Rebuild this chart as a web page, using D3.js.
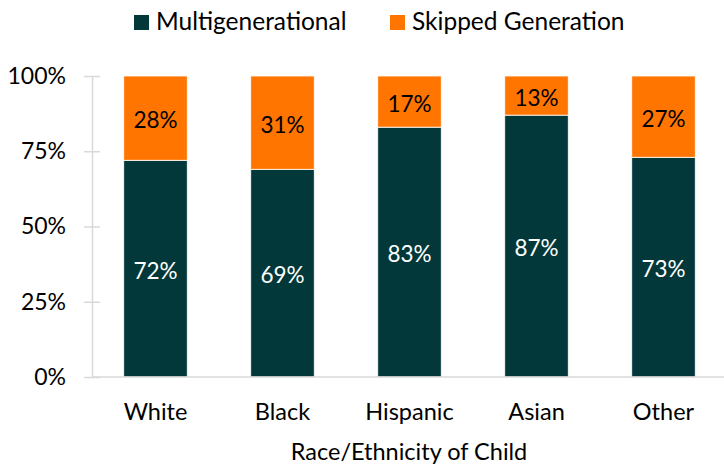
<!DOCTYPE html>
<html>
<head>
<meta charset="utf-8">
<script src="https://cdn.jsdelivr.net/npm/d3@7"></script>
<style>
  body { margin: 0; background: #fff; }
  svg text { font-family: Lato, "Open Sans", sans-serif; }
</style>
</head>
<body>
<svg id="chart" width="724" height="465"></svg>
<script>
const categories = ['White', 'Black', 'Hispanic', 'Asian', 'Other'];
const seriesNames = ['Multigenerational', 'Skipped Generation'];
const multigenerational = [72, 69, 83, 87, 73];
const skipped = [28, 31, 17, 13, 27];
const yTicks = [0, 25, 50, 75, 100];
const colors = ['#02383a', '#ff7500'];

const svg = d3.select('#chart');
const margin = { top: 76, right: -3, bottom: 88, left: 92 };
const width = +svg.attr('width') - margin.left - margin.right;
const height = +svg.attr('height') - margin.top - margin.bottom;

const g = svg.append('g')
  .attr('transform', `translate(${margin.left},${margin.top})`);

const x = d3.scaleBand()
  .domain(categories)
  .range([0, width])
  .paddingInner(0.5)
  .paddingOuter(0.25);

const y = d3.scaleLinear()
  .domain([0, 100])
  .range([height, 0]);

// y axis
const yAxis = g.append('g')
  .call(d3.axisLeft(y).tickValues(yTicks).tickSize(8).tickSizeOuter(0).tickFormat(d => d + '%'))
  .call(a => a.select('.domain').attr('stroke', '#d9d9d9').attr('stroke-width', 1.5));
yAxis.selectAll('.tick line')
  .attr('stroke', '#d9d9d9').attr('stroke-width', 1.5)
  .attr('x2', 8).attr('x1', -8);
yAxis.selectAll('.tick text')
  .attr('x', -26)
  .attr('fill', '#000')
  .style('font-size', '23px');

// stacked data
const table = categories.map((c, i) => ({
  category: c,
  Multigenerational: multigenerational[i],
  'Skipped Generation': skipped[i]
}));
const stack = d3.stack().keys(seriesNames)(table);

const layer = g.selectAll('.layer')
  .data(stack)
  .enter().append('g')
    .attr('class', 'layer')
    .attr('fill', (d, i) => colors[i]);

layer.selectAll('rect')
  .data(d => d)
  .enter().append('rect')
    .attr('x', d => x(d.data.category))
    .attr('y', d => y(d[1]))
    .attr('width', x.bandwidth())
    .attr('height', d => y(d[0]) - y(d[1]))
    .attr('stroke', '#fff')
    .attr('stroke-width', 0.8);

layer.selectAll('text')
  .data((d, i) => d.map(v => ({ v, i })))
  .enter().append('text')
    .attr('x', d => x(d.v.data.category) + x.bandwidth() / 2)
    .attr('y', d => y((d.v[0] + d.v[1]) / 2))
    .attr('dy', '0.45em')
    .attr('text-anchor', 'middle')
    .attr('fill', d => d.i === 0 ? '#fff' : '#000')
    .style('font-size', '22.5px')
    .text(d => (d.v[1] - d.v[0]) + '%');

// x axis
g.append('line')
  .attr('x1', 0).attr('x2', width)
  .attr('y1', height).attr('y2', height)
  .attr('stroke', '#d9d9d9').attr('stroke-width', 1.5);

g.selectAll('.xlabel')
  .data(categories)
  .enter().append('text')
    .attr('class', 'xlabel')
    .attr('x', d => x(d) + x.bandwidth() / 2)
    .attr('y', height + 43)
    .attr('text-anchor', 'middle')
    .style('font-size', '23.5px')
    .text(d => d);

svg.append('text')
  .attr('x', 409)
  .attr('y', 460)
  .attr('text-anchor', 'middle')
  .style('font-size', '23.5px')
  .text('Race/Ethnicity of Child');

// legend
const legendX = [134, 390];
const legend = svg.selectAll('.legend')
  .data(seriesNames)
  .enter().append('g')
    .attr('class', 'legend')
    .attr('transform', (d, i) => `translate(${legendX[i]},15)`);
legend.append('rect')
  .attr('width', 15).attr('height', 15)
  .attr('fill', (d, i) => colors[i]);
legend.append('text')
  .attr('x', 22)
  .attr('y', 15)
  .style('font-size', '24.5px')
  .text(d => d);
</script>
</body>
</html>
